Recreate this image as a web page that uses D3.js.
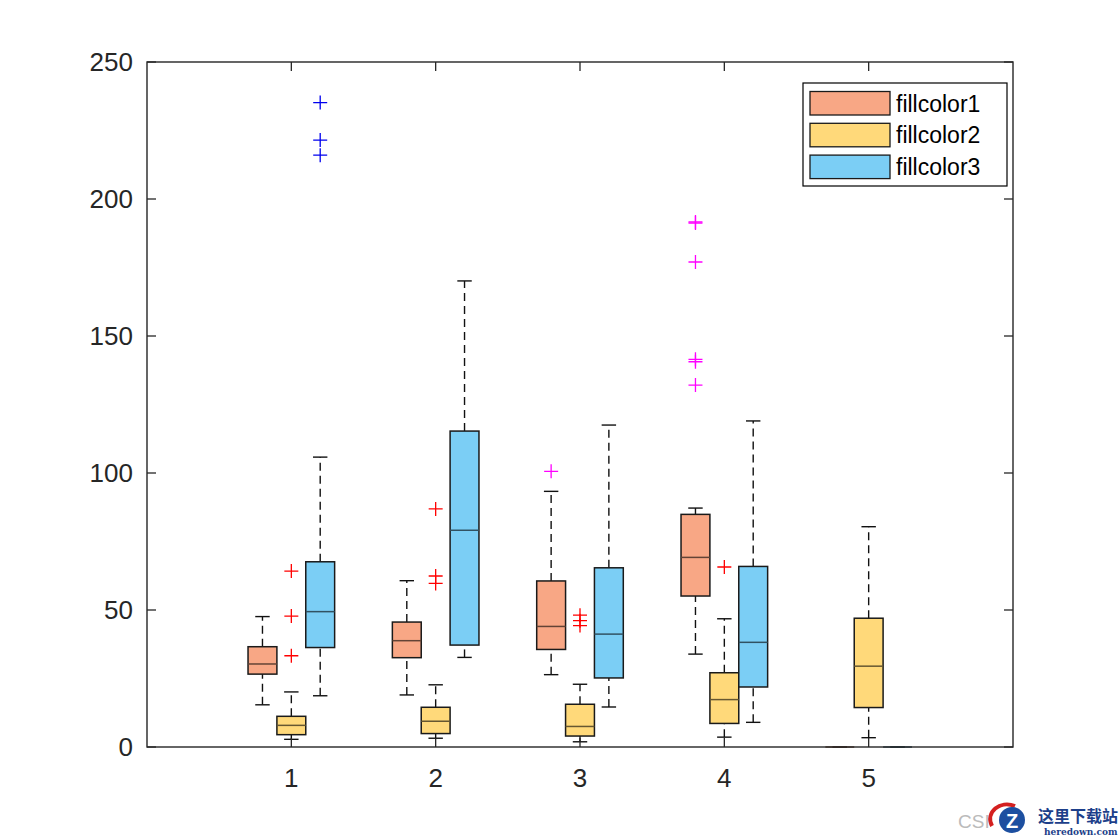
<!DOCTYPE html>
<html>
<head>
<meta charset="utf-8">
<script src="https://cdn.jsdelivr.net/npm/d3@7"></script>
<style>
  body { margin: 0; background: #fff; }
  svg { display: block; font-family: Arial, "Liberation Sans", Helvetica, sans-serif; }
</style>
</head>
<body>
<div id="chart"></div>
<script>
// groups on the x axis
var groups = [1, 2, 3, 4, 5];
var seriesNames = ["fillcolor1", "fillcolor2", "fillcolor3"];
var fillColors = ["#F8A785", "#FFD97A", "#7BCEF5"];

// [lower whisker, q1, median, q3, upper whisker] per group
var fillcolor1 = [
  [15.4, 26.6, 30.3, 36.6, 47.6],
  [19.0, 32.6, 38.8, 45.6, 60.7],
  [26.4, 35.6, 44.0, 60.6, 93.3],
  [33.9, 55.1, 69.2, 84.9, 87.2],
  [0, 0, 0, 0, 0]
];
var fillcolor2 = [
  [2.8, 4.5, 7.9, 11.2, 20.1],
  [3.2, 4.9, 9.4, 14.5, 22.7],
  [1.9, 4.0, 7.5, 15.6, 22.9],
  [3.6, 8.6, 17.3, 27.1, 46.8],
  [3.4, 14.4, 29.5, 47.0, 80.4]
];
var fillcolor3 = [
  [18.7, 36.3, 49.4, 67.6, 105.8],
  [32.7, 37.2, 79.1, 115.3, 170.1],
  [14.6, 25.2, 41.2, 65.4, 117.5],
  [9.0, 21.9, 38.2, 65.9, 119.0],
  [0, 0, 0, 0, 0]
];

// outliers: group, series slot (0,1,2), value, marker colour
var outlierGroup = [1, 1, 1, 2, 2, 2, 3, 3, 3, 4, 1, 1, 1, 3, 4, 4, 4, 4, 4, 4];
var outlierSlot  = [1, 1, 1, 1, 1, 1, 1, 1, 1, 1, 2, 2, 2, 0, 0, 0, 0, 0, 0, 0];
var outlierValue = [64.2, 47.8, 33.3, 86.9, 62.4, 59.7, 48.1, 46.1, 44.3, 65.7,
                    235.2, 221.5, 216.0, 100.6, 191.6, 191.2, 177.0, 141.5, 140.6, 132.1];
var outlierColor = ["r", "r", "r", "r", "r", "r", "r", "r", "r", "r",
                    "b", "b", "b", "m", "m", "m", "m", "m", "m", "m"];

var yTicks = [0, 50, 100, 150, 200, 250];

var width = 1120, height = 840;
var mLeft = 147, mRight = 1013, mTop = 62, mBottom = 747;
var slotOffset = [-0.2, 0, 0.2];
var boxW = 0.2;
var markColor = { r: "#ff0000", b: "#0000ee", m: "#ff00ff" };
var axisColor = "#262626";

var allSeries = [fillcolor1, fillcolor2, fillcolor3];

var svg = d3.select("#chart").append("svg")
    .attr("width", width)
    .attr("height", height);

var xScale = d3.scaleLinear().domain([0, 6]).range([mLeft, mRight]);
var yScale = d3.scaleLinear().domain([0, 250]).range([mBottom, mTop]);

// boxes
var boxes = [];
allSeries.forEach(function(s, si) {
  s.forEach(function(st, gi) {
    boxes.push({ series: si, group: groups[gi], st: st });
  });
});

var bx = svg.append("g").attr("class", "boxes");

boxes.forEach(function(d) {
  var xc = d.group + slotOffset[d.series];
  var g = bx.append("g");
  var x0 = xScale(xc - boxW / 2), x1 = xScale(xc + boxW / 2);
  var c0 = xScale(xc - boxW / 4), c1 = xScale(xc + boxW / 4);
  var xm = xScale(xc);
  // whiskers
  [[d.st[0], d.st[1]], [d.st[3], d.st[4]]].forEach(function(w) {
    g.append("line")
      .attr("x1", xm).attr("x2", xm)
      .attr("y1", yScale(w[0])).attr("y2", yScale(w[1]))
      .style("stroke", "#111").style("stroke-width", 1.4)
      .style("stroke-dasharray", "8,5");
  });
  [d.st[0], d.st[4]].forEach(function(v) {
    g.append("line")
      .attr("x1", c0).attr("x2", c1)
      .attr("y1", yScale(v)).attr("y2", yScale(v))
      .style("stroke", "#111").style("stroke-width", 1.4);
  });
  g.append("rect")
    .attr("x", x0)
    .attr("y", yScale(d.st[3]))
    .attr("width", x1 - x0)
    .attr("height", yScale(d.st[1]) - yScale(d.st[3]))
    .style("fill", fillColors[d.series])
    .style("stroke", "#1a1a1a")
    .style("stroke-width", 1.5);
  g.append("line")
    .attr("x1", x0).attr("x2", x1)
    .attr("y1", yScale(d.st[2])).attr("y2", yScale(d.st[2]))
    .style("stroke", d3.interpolateRgb(fillColors[d.series], "#000")(0.6))
    .style("stroke-width", 1.5);
});

// outliers as + markers
var outliers = outlierValue.map(function(v, i) {
  return { group: outlierGroup[i], slot: outlierSlot[i], value: v, color: outlierColor[i] };
});

svg.append("g").selectAll("path.out")
  .data(outliers)
  .enter()
  .append("path")
  .attr("class", "out")
  .attr("transform", function(d) {
    return "translate(" + xScale(d.group + slotOffset[d.slot]) + "," + yScale(d.value) + ")";
  })
  .attr("d", "M-7,0H7M0,-7V7")
  .style("stroke", function(d) { return markColor[d.color]; })
  .style("stroke-width", 1.3)
  .style("fill", "none");

// axes (MATLAB style: ticks inward, box on)
var ax = svg.append("g").attr("class", "axes");

ax.append("rect")
  .attr("x", mLeft).attr("y", mTop)
  .attr("width", mRight - mLeft).attr("height", mBottom - mTop)
  .style("fill", "none").style("stroke", axisColor).style("stroke-width", 1.4);

yTicks.forEach(function(t) {
  var y = yScale(t);
  ax.append("line").attr("x1", mLeft).attr("x2", mLeft + 9).attr("y1", y).attr("y2", y)
    .style("stroke", axisColor).style("stroke-width", 1.3);
  ax.append("line").attr("x1", mRight).attr("x2", mRight - 9).attr("y1", y).attr("y2", y)
    .style("stroke", axisColor).style("stroke-width", 1.3);
  ax.append("text")
    .attr("x", mLeft - 14).attr("y", y + 9)
    .attr("text-anchor", "end")
    .style("font-size", "26px").style("fill", axisColor)
    .text(t);
});

groups.forEach(function(t) {
  var x = xScale(t);
  ax.append("line").attr("x1", x).attr("x2", x).attr("y1", mBottom).attr("y2", mBottom - 9)
    .style("stroke", axisColor).style("stroke-width", 1.3);
  ax.append("line").attr("x1", x).attr("x2", x).attr("y1", mTop).attr("y2", mTop + 9)
    .style("stroke", axisColor).style("stroke-width", 1.3);
  ax.append("text")
    .attr("x", x).attr("y", mBottom + 40)
    .attr("text-anchor", "middle")
    .style("font-size", "26px").style("fill", axisColor)
    .text(t);
});

// legend
var lg = svg.append("g").attr("class", "legend");
lg.append("rect")
  .attr("x", 803).attr("y", 83).attr("width", 204).attr("height", 103)
  .style("fill", "#fff").style("stroke", "#000").style("stroke-width", 1.2);

seriesNames.forEach(function(n, i) {
  var y = 91.5 + i * 31.8;
  lg.append("rect")
    .attr("x", 810).attr("y", y).attr("width", 80).attr("height", 23.5)
    .style("fill", fillColors[i]).style("stroke", "#1a1a1a").style("stroke-width", 1.3);
  lg.append("text")
    .attr("x", 896).attr("y", y + 20)
    .style("font-size", "23px").style("fill", "#000")
    .text(n);
});

// watermark
var wm = svg.append("g").attr("class", "watermark");
wm.append("text").attr("x", 958).attr("y", 828)
  .style("font-size", "19px").style("fill", "#bbb").text("CSI");
wm.append("path")
  .attr("d", "M992,826 C985,812 1000,800 1015,806")
  .style("fill", "none").style("stroke", "#d42020").style("stroke-width", 4);
wm.append("circle").attr("cx", 1012).attr("cy", 820).attr("r", 13)
  .style("fill", "#1d4fa0");
wm.append("text").attr("x", 1012).attr("y", 828).attr("text-anchor", "middle")
  .style("font-size", "20px").style("font-weight", "bold").style("fill", "#fff").text("Z");
wm.append("text").attr("x", 1038).attr("y", 822)
  .style("font-family", "'Noto Sans CJK SC', sans-serif")
  .style("font-size", "16px").style("font-weight", "bold").style("fill", "#1d3f8a")
  .text("这里下载站");
wm.append("text").attr("x", 1044).attr("y", 835)
  .style("font-family", "'DejaVu Serif', serif")
  .style("font-size", "9px").style("font-weight", "bold").style("fill", "#1d3f8a")
  .text("heredown.com");
</script>
</body>
</html>
